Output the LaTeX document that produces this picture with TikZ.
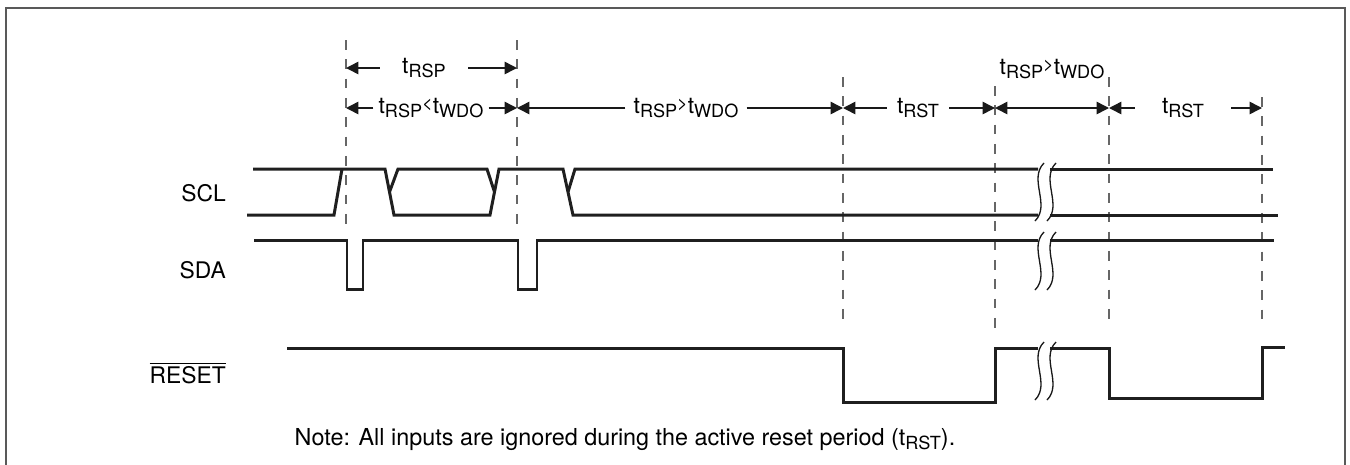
\documentclass[tikz,border=0pt]{standalone}
\usepackage{fontspec}
\setmainfont{TeX Gyre Heros}
\usetikzlibrary{arrows.meta}

\newcommand{\sub}[1]{\raisebox{-0.3ex}{\fontsize{10.3}{10}\selectfont #1}}
\newcommand{\rel}[1]{\raisebox{0.35ex}{\fontsize{10.3}{10}\selectfont #1}}

\tikzset{
  sig/.style={line width=1.7pt, color=black!88, line join=miter},
  marker/.style={line width=0.7pt, color=black!60, dash pattern=on 5.5pt off 5.5pt},
  dimline/.style={line width=0.85pt, color=black!90},
  lbl/.style={font=\fontsize{13}{15}\selectfont, inner ysep=0pt},
  brk/.style={line width=0.75pt, color=black!90},
  frame/.style={line width=1.1pt, color=black!65}
}

\begin{document}
\begin{tikzpicture}[x=0.02cm, y=-0.02cm, >={Triangle[length=7pt,width=7pt]}]
\useasboundingbox (0,0) rectangle (1350,464);

% frame
\draw[frame] (6,470) -- (6,8) -- (1345,8) -- (1345,470);

% dashed markers
\foreach \n/\x/\t/\b in {1/346/40/233, 2/517/40/233, 3/843/77/325, 4/995/86/330, 5/1109/77/325, 6/1262/97/320}{
  \coordinate (m\n) at (\x,\t);
  \draw[marker] (m\n) -- (\x,\b);
}

% timing labels
\node[lbl, inner xsep=0.44cm] (rsp) at (424,68) {t\sub{RSP}};
\draw[dimline, ->] (rsp.west) -- (m1 |- rsp);
\draw[dimline, ->] (rsp.east) -- (m2 |- rsp);

\node[lbl, inner xsep=0.1cm] (lt) at (431,108) {t\sub{RSP}\rel{<}t\sub{WDO}};
\draw[dimline, ->] (lt.west) -- (m1 |- lt);
\draw[dimline, ->] (lt.east) -- (m2 |- lt);

\node[lbl, inner xsep=0.16cm] (gt) at (686,108) {t\sub{RSP}\rel{>}t\sub{WDO}};
\draw[dimline, ->] (gt.west) -- (m2 |- gt);
\draw[dimline, ->] (gt.east) -- (m3 |- gt);

\node[lbl, inner xsep=0.2cm] (rst) at (918,108) {t\sub{RST}};
\draw[dimline, ->] (rst.west) -- (m3 |- rst);
\draw[dimline, ->] (rst.east) -- (m4 |- rst);

\node[lbl] (gttop) at (1052,69) {t\sub{RSP}\rel{>}t\sub{WDO}};
\draw[dimline, <->] (m4 |- rst) -- (m5 |- rst);

\node[lbl, inner xsep=0.54cm] (rsttwo) at (1183,108) {t\sub{RST}};
\draw[dimline, ->] (rsttwo.west) -- (m5 |- rsttwo);
\draw[dimline, ->] (rsttwo.east) -- (m6 |- rsttwo);

% signal names
\node[lbl, anchor=base east] (scl) at (232,201) {SCL};
\node[lbl, anchor=base east] (sda) at (232,278) {SDA};
\node[lbl, anchor=base east] (reset) at (232,383) {\(\overline{\mbox{RESET}}\)};

% SCL
\draw[sig] (253,169) -- (385,169) -- (394,215) -- (490,215) -- (499,169) -- (563,169) -- (573,215) -- (1038,215);
\draw[sig] (1050,215) -- (1278,215);
\draw[sig] (247,215) -- (334,215) -- (342,169);
\draw[sig] (389.5,192) -- (398,169) -- (487,169) -- (494.5,192);
\draw[sig] (568,192) -- (575,169) -- (1038,169);
\draw[sig] (1050,169) -- (1273,169);

% SDA
\draw[sig] (254,240) -- (347,240) -- (347,289) -- (363,289) -- (363,240) -- (518,240) -- (518,289) -- (537,289) -- (537,240) -- (1038,240);
\draw[sig] (1050,240) -- (1274,240);

% RESET
\draw[sig] (287,348) -- (843,348) -- (843,402) -- (995,402) -- (995,348) -- (1038,348);
\draw[sig] (1050,348) -- (1109,348) -- (1109,398) -- (1262,398) -- (1262,347) -- (1285,347);

% break marks
\foreach \t in {163,232,342}
  \foreach \dx in {0,12}
    \draw[brk] ({1044+\dx},\t) .. controls ({1028+\dx},\t+16) and ({1051+\dx},\t+42) .. ({1035+\dx},\t+58);

% note
\node[lbl, font=\fontsize{13.3}{15}\selectfont] (note) at (625,440) {Note: All inputs are ignored during the active reset period (t\sub{RST}).};

\end{tikzpicture}
\end{document}
